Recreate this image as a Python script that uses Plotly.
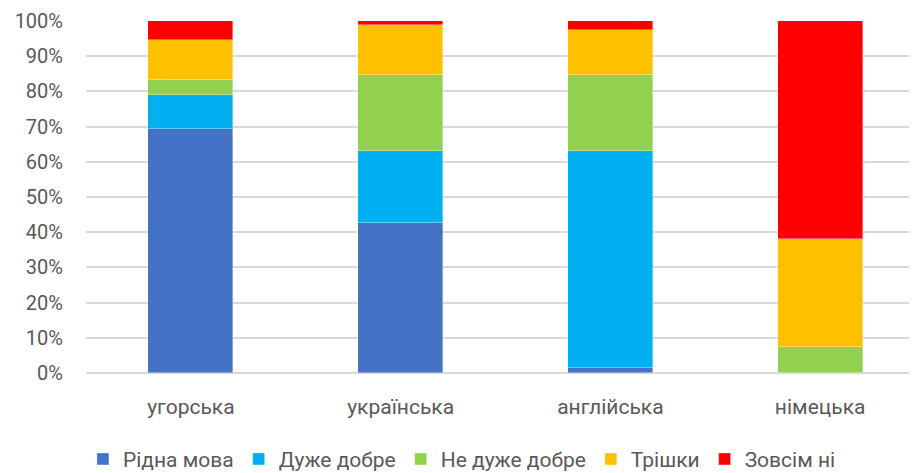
import plotly.graph_objects as go

# languages and self-rated proficiency shares (%)
languages = ["угорська", "українська", "англійська", "німецька"]
levels = ["Рідна мова", "Дуже добре", "Не дуже добре", "Трішки", "Зовсім ні"]

native = [69.3, 42.7, 1.4, 0.0]
very_good = [9.6, 20.3, 61.6, 0.0]
not_very_good = [4.4, 21.7, 21.7, 7.5]
a_little = [11.2, 14.2, 12.8, 30.7]
not_at_all = [5.5, 1.1, 2.5, 61.8]

colors = ["#4472C4", "#00B0F0", "#92D050", "#FFC000", "#FF0000"]

series = [native, very_good, not_very_good, a_little, not_at_all]

fig = go.Figure()
for name, vals, color in zip(levels, series, colors):
    fig.add_trace(
        go.Bar(
            x=languages,
            y=[v / 100 for v in vals],
            name=name,
            marker=dict(color=color, line=dict(width=0.6, color="rgba(255,255,255,0.6)")),
            width=0.405,
        )
    )

font_family = "Roboto, Arial"

# page body adds 8px offset, so margins are shifted by -8
fig.update_layout(
    barmode="stack",
    width=917,
    height=473,
    margin=dict(l=78, r=0, t=13, b=108),
    plot_bgcolor="white",
    paper_bgcolor="white",
    font=dict(family=font_family, size=20, color="#595959"),
    legend=dict(
        orientation="h",
        xref="container",
        yref="container",
        x=0.495,
        xanchor="center",
        y=0.046,
        yanchor="middle",
        font=dict(size=21, color="#595959"),
        itemwidth=30,
        traceorder="normal",
    ),
    bargap=0,
)

fig.update_xaxes(
    range=[-0.5, 3.5],
    showgrid=False,
    showline=False,
    ticks="",
    tickfont=dict(size=21),
    ticklabelstandoff=19,
)
fig.update_yaxes(
    range=[0, 1],
    dtick=0.1,
    tickformat=".0%",
    showgrid=True,
    gridcolor="#d9d9d9",
    gridwidth=1.5,
    zeroline=True,
    zerolinecolor="#d9d9d9",
    zerolinewidth=1.5,
    ticks="",
    ticklabelstandoff=22,
)

fig.write_html("out.html")
